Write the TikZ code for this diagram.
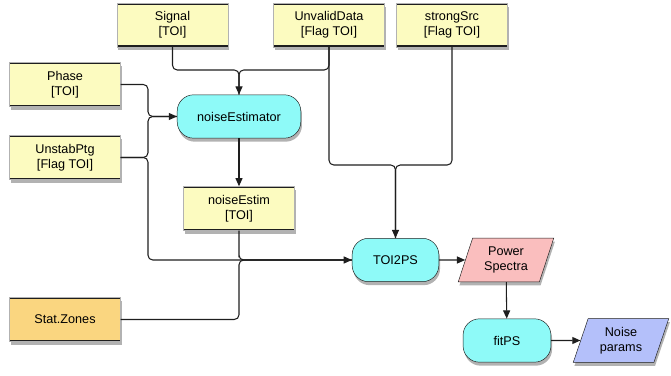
\documentclass[tikz,border=0pt]{standalone}
\usepackage{fontspec}
\setmainfont{Liberation Sans}
\usetikzlibrary{arrows.meta, positioning, shapes.geometric, shadows}
\definecolor{toiyellow}{RGB}{252, 251, 192}
\definecolor{zoneorange}{RGB}{250, 214, 128}
\definecolor{proccyan}{RGB}{142, 250, 248}
\definecolor{specpink}{RGB}{250, 190, 190}
\definecolor{parblue}{RGB}{180, 192, 250}
\definecolor{edgegray}{RGB}{30, 30, 30}
\tikzset{
  shade/.style={drop shadow={shadow xshift=1pt, shadow yshift=-3pt, opacity=0.3, fill=black}},
  data/.style={shade, draw=gray!60, fill=toiyellow, align=center, font=\fontsize{10.8}{13}\selectfont,
    minimum width=94.5pt, minimum height=37.5pt, inner sep=2pt,
    path picture={\draw[line width=2.6pt, edgegray]
      (path picture bounding box.north west) -- (path picture bounding box.north east)
      (path picture bounding box.south west) -- (path picture bounding box.south east);}},
  zone/.style={data, fill=zoneorange},
  proc/.style={shade, draw=edgegray, fill=proccyan, rounded corners=14pt, align=center, font=\fontsize{10.8}{13}\selectfont,
    minimum height=37pt, inner sep=2pt},
  prod/.style={shade, draw=edgegray, fill=specpink, trapezium, trapezium left angle=71, trapezium right angle=109,
    trapezium stretches=true, align=center, font=\fontsize{10.8}{13}\selectfont,
    minimum width=82pt, minimum height=37.5pt, inner sep=1pt},
  conn/.style={line width=0.9pt, edgegray, rounded corners=4pt},
  arr/.style={conn, -{Triangle[length=7pt, width=6pt]}}
}
\begin{document}
\begin{tikzpicture}[x=0.03cm, y=-0.03cm]
  \useasboundingbox (0,0) rectangle (671,376);
  % inputs
  \node[data] (signal) at (172.5,25) {Signal\\{[TOI]}};
  \node[data] (unvalid) at (329,25) {UnvalidData\\{[Flag TOI]}};
  \node[data] (strong) at (452,25) {strongSrc\\{[Flag TOI]}};
  \node[data] (phase) at (65,84.5) {Phase\\{[TOI]}};
  \node[data] (unstab) at (65,157.5) {UnstabPtg\\{[Flag TOI]}};
  \node[zone] (zones) at (65,319.5) {Stat.Zones};
  % processing
  \node[proc, minimum width=105.5pt] (estimator) at (239,116.5) {noiseEstimator};
  \node[data] (estim) at (239,208.5) {noiseEstim\\{[TOI]}};
  \node[proc, minimum width=74pt] (toi2ps) at (395.5,260) {TOI2PS};
  \node[prod] (spectra) at (506,260) {Power\\Spectra};
  \node[proc, minimum width=75pt] (fitps) at (507,340.5) {fitPS};
  \node[prod, fill=parblue] (params) at (621,340.5) {Noise\\params};
  % junctions
  \coordinate (jtop) at (239,70);
  \coordinate (jleft) at (148,116.5);
  \coordinate (jflag) at (395.5,165);
  \coordinate (jlow) at (148,260);
  \coordinate (jmid) at (239,260);
  % connectors
  \draw[conn] (signal.south) |- (jtop) -- (estimator.north);
  \draw[arr] (unvalid.south) |- (jtop) -- (estimator.north);
  \draw[conn] (phase.east) -| (jleft) -- (estimator.west);
  \draw[arr] (unstab.east) -| (jleft) -- (estimator.west);
  \draw[arr] (estimator) -- (estim);
  \draw[conn] (unvalid.south) |- (jflag) -- (toi2ps.north);
  \draw[arr] (strong.south) |- (jflag) -- (toi2ps.north);
  \draw[conn] (unstab.east) -| (jlow) -- (toi2ps.west);
  \draw[conn] (estim.south) |- (jmid) -- (toi2ps.west);
  \draw[arr] (zones.east) -| (jmid) -- (toi2ps.west);
  \draw[arr] (toi2ps) -- (spectra);
  \draw[arr] (spectra) -- (fitps);
  \draw[arr] (fitps) -- (params);
\end{tikzpicture}
\end{document}
